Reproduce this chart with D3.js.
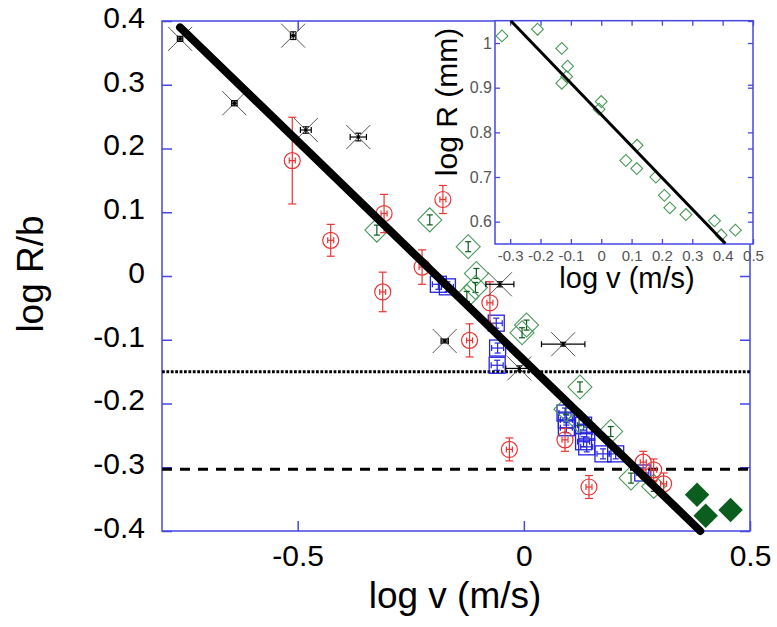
<!DOCTYPE html>
<html>
<head>
<meta charset="utf-8">
<title>log R/b vs log v</title>
<script src="https://cdn.jsdelivr.net/npm/d3@7/dist/d3.min.js"></script>
<style>
  body { margin: 0; background: #fff; }
  text { font-family: "Liberation Sans", Arial, sans-serif; }
</style>
</head>
<body>
<div id="chart"></div>
<script>
// ---- data ----
// black crosses: [log v, log R/b, x error, y error]
var crosses = [
  [-0.760, 0.372, 0.006, 0.004], [-0.510, 0.377, 0.006, 0.006],
  [-0.640, 0.271, 0.006, 0.004], [-0.482, 0.229, 0.012, 0.005],
  [-0.366, 0.218, 0.018, 0.006], [-0.053, -0.013, 0.031, 0.004],
  [-0.175, -0.102, 0.008, 0.003], [0.087, -0.107, 0.048, 0.003],
  [-0.010, -0.145, 0.030, 0.004]
];
// red circles: [log v, log R/b, y error]
var circles = [
  [-0.512, 0.181, 0.068], [-0.427, 0.056, 0.025], [-0.309, 0.098, 0.030],
  [-0.312, -0.025, 0.031], [-0.179, 0.120, 0.022], [-0.225, 0.014, 0.027],
  [-0.075, -0.042, 0.033], [-0.120, -0.101, 0.026], [-0.032, -0.272, 0.018],
  [0.091, -0.257, 0.018], [0.144, -0.331, 0.018], [0.264, -0.292, 0.017],
  [0.287, -0.304, 0.017], [0.309, -0.326, 0.017]
];
// green open diamonds
var diamonds = [
  [-0.325, 0.072], [-0.208, 0.088], [-0.123, 0.046], [-0.105, 0.004],
  [-0.107, -0.018], [-0.126, -0.032], [0.006, -0.077], [-0.004, -0.089],
  [0.124, -0.174], [0.093, -0.209], [0.122, -0.227], [0.192, -0.244],
  [0.237, -0.317], [0.287, -0.330]
];
// green filled diamonds
var filled = [[0.383, -0.343], [0.402, -0.376], [0.457, -0.367]];
// blue squares
var squares = [
  [-0.189, -0.013], [-0.169, -0.017], [-0.061, -0.074], [-0.058, -0.113],
  [-0.059, -0.140], [0.091, -0.215], [0.094, -0.226], [0.094, -0.238],
  [0.132, -0.234], [0.139, -0.245], [0.132, -0.260], [0.139, -0.268],
  [0.175, -0.279], [0.203, -0.279], [0.263, -0.309]
];
var fitLine = [[-0.76, 0.39], [0.39, -0.40]];
var refLevels = [-0.15, -0.303];

// inset: log v vs log R (mm)
var insetPts = [
  [-0.327, 1.016], [-0.210, 1.031], [-0.130, 0.988], [-0.111, 0.948],
  [-0.114, 0.925], [-0.130, 0.910], [0.000, 0.869], [-0.007, 0.852],
  [0.118, 0.771], [0.081, 0.737], [0.117, 0.719], [0.180, 0.700],
  [0.208, 0.659], [0.226, 0.631], [0.279, 0.616], [0.373, 0.602],
  [0.395, 0.570], [0.442, 0.581]
];
var insetFit = [[-0.298, 1.05], [0.409, 0.551]];

var xTicks = [-0.5, 0, 0.5];
var yTicks = [-0.4, -0.3, -0.2, -0.1, 0, 0.1, 0.2, 0.3, 0.4];
var ixTicks = [-0.3, -0.2, -0.1, 0, 0.1, 0.2, 0.3, 0.4, 0.5];
var iyTicks = [0.6, 0.7, 0.8, 0.9, 1];

var W = 777, H = 627;
var frameCol = "#4747e3";

var svg = d3.select("#chart").append("svg")
  .attr("width", W).attr("height", H);

var x = d3.scaleLinear().domain([-0.8, 0.5]).range([162, 750]);
var y = d3.scaleLinear().domain([-0.4, 0.4]).range([531, 21]);

// frame + ticks
function fmt(d) { return d === 0 ? "0" : String(d); }

svg.append("rect")
  .attr("x", x.range()[0]).attr("y", y.range()[1])
  .attr("width", x.range()[1] - x.range()[0])
  .attr("height", y.range()[0] - y.range()[1])
  .attr("fill", "none").attr("stroke", frameCol).attr("stroke-width", 1.5);

var axL = svg.append("g").attr("transform", "translate(" + x.range()[0] + ",0)")
  .call(d3.axisLeft(y).tickValues(yTicks).tickFormat(fmt).tickSize(-10).tickPadding(17));
var axB = svg.append("g").attr("transform", "translate(0," + y.range()[0] + ")")
  .call(d3.axisBottom(x).tickValues(xTicks).tickFormat(fmt).tickSize(-10).tickPadding(14));
var axR = svg.append("g").attr("transform", "translate(" + x.range()[1] + ",0)")
  .call(d3.axisRight(y).tickValues(yTicks).tickFormat("").tickSize(-10));
var axT = svg.append("g").attr("transform", "translate(0," + y.range()[1] + ")")
  .call(d3.axisTop(x).tickValues(xTicks).tickFormat("").tickSize(-10));

[axL, axB, axR, axT].forEach(function(g) {
  g.select(".domain").remove();
  g.selectAll("line").attr("stroke", frameCol).attr("stroke-width", 1.5);
  g.selectAll("text").attr("fill", "#000").style("font-size", "30px")
    .style("font-family", "'Liberation Sans', Arial, sans-serif");
});
axL.selectAll("text").attr("dy", "0.21em");

// axis titles
svg.append("text").attr("x", 455).attr("y", 608).attr("text-anchor", "middle")
  .style("font-size", "37px").text("log v (m/s)");
svg.append("text").attr("transform", "translate(43,274) rotate(-90)")
  .attr("text-anchor", "middle").style("font-size", "37px").text("log R/b");

var plot = svg.append("g");

// horizontal reference lines
plot.selectAll("line.ref").data(refLevels).enter().append("line")
  .attr("x1", x.range()[0]).attr("x2", x.range()[1])
  .attr("y1", function(d) { return y(d); }).attr("y2", function(d) { return y(d); })
  .attr("stroke", "#000").attr("stroke-width", 3)
  .attr("stroke-dasharray", function(d, i) { return i === 0 ? "2.8,1.6" : "10,8"; });

// helper for error bars
function errBar(g, x1, y1, x2, y2, cap, col, vertical) {
  g.append("line").attr("x1", x1).attr("y1", y1).attr("x2", x2).attr("y2", y2)
    .attr("stroke", col).attr("stroke-width", 1.2);
  [[x1, y1], [x2, y2]].forEach(function(p) {
    if (vertical) {
      g.append("line").attr("x1", p[0] - cap).attr("x2", p[0] + cap)
        .attr("y1", p[1]).attr("y2", p[1]).attr("stroke", col).attr("stroke-width", 1.2);
    } else {
      g.append("line").attr("y1", p[1] - cap).attr("y2", p[1] + cap)
        .attr("x1", p[0]).attr("x2", p[0]).attr("stroke", col).attr("stroke-width", 1.2);
    }
  });
}

// blue squares
plot.selectAll("g.sq").data(squares).enter().append("g").attr("class", "sq")
  .each(function(d) {
    var g = d3.select(this), cx = x(d[0]), cy = y(d[1]);
    g.append("rect").attr("x", cx - 8).attr("y", cy - 8).attr("width", 16).attr("height", 16)
      .attr("fill", "none").attr("stroke", "#2424e0").attr("stroke-width", 1.3);
    errBar(g, cx - 6, cy, cx + 6, cy, 3, "#2424e0", false);
    errBar(g, cx, cy - 5, cx, cy + 5, 3, "#2424e0", true);
  });

// green open diamonds
plot.selectAll("g.dm").data(diamonds).enter().append("g").attr("class", "dm")
  .each(function(d) {
    var g = d3.select(this), cx = x(d[0]), cy = y(d[1]);
    g.append("path")
      .attr("d", d3.symbol().type(d3.symbolSquare).size(288)())
      .attr("transform", "translate(" + cx + "," + cy + ") rotate(45)")
      .attr("fill", "none").attr("stroke", "#4a9a5a").attr("stroke-width", 1.1);
    errBar(g, cx, cy - 5, cx, cy + 5, 3, "#0d5a1c", true);
  });

// green filled diamonds
plot.selectAll("path.fd").data(filled).enter().append("path").attr("class", "fd")
  .attr("d", d3.symbol().type(d3.symbolSquare).size(300)())
  .attr("transform", function(d) { return "translate(" + x(d[0]) + "," + y(d[1]) + ") rotate(45)"; })
  .attr("fill", "#0c5e1f");

// red circles
plot.selectAll("g.ci").data(circles).enter().append("g").attr("class", "ci")
  .each(function(d) {
    var g = d3.select(this), cx = x(d[0]), cy = y(d[1]);
    g.append("circle").attr("cx", cx).attr("cy", cy).attr("r", 8)
      .attr("fill", "none").attr("stroke", "#ea3434").attr("stroke-width", 1.2);
    errBar(g, cx, y(d[1] + d[2]), cx, y(d[1] - d[2]), 4, "#ea3434", true);
    errBar(g, cx - 3, cy, cx + 3, cy, 3, "#ea3434", false);
  });

// black crosses
plot.selectAll("g.cr").data(crosses).enter().append("g").attr("class", "cr")
  .each(function(d) {
    var g = d3.select(this), cx = x(d[0]), cy = y(d[1]);
    g.append("path")
      .attr("d", "M" + (cx - 12) + "," + (cy - 12) + "L" + (cx + 12) + "," + (cy + 12) +
                 "M" + (cx - 12) + "," + (cy + 12) + "L" + (cx + 12) + "," + (cy - 12))
      .attr("stroke", "#555").attr("stroke-width", 1);
    errBar(g, x(d[0] - d[2]), cy, x(d[0] + d[2]), cy, 3, "#000", false);
    errBar(g, cx, y(d[1] + d[3]), cx, y(d[1] - d[3]), 3, "#000", true);
    g.append("rect").attr("x", cx - 1.5).attr("y", cy - 1.5).attr("width", 3).attr("height", 3).attr("fill", "#000");
  });

// fit line
plot.append("path").datum(fitLine)
  .attr("d", d3.line().x(function(d) { return x(d[0]); }).y(function(d) { return y(d[1]); }))
  .attr("stroke", "#000").attr("stroke-width", 8).attr("stroke-linecap", "round").attr("fill", "none");

// ---- inset ----
var xi = d3.scaleLinear().domain([-0.35, 0.5]).range([495, 753]);
var yi = d3.scaleLinear().domain([0.55, 1.05]).range([244, 20.7]);
var inset = svg.append("g");

inset.append("rect")
  .attr("x", xi.range()[0]).attr("y", yi.range()[1])
  .attr("width", xi.range()[1] - xi.range()[0])
  .attr("height", yi.range()[0] - yi.range()[1])
  .attr("fill", "#fff").attr("stroke", frameCol).attr("stroke-width", 1.5);

var iL = inset.append("g").attr("transform", "translate(" + xi.range()[0] + ",0)")
  .call(d3.axisLeft(yi).tickValues(iyTicks).tickFormat(fmt).tickSize(-5).tickPadding(3));
var iB = inset.append("g").attr("transform", "translate(0," + yi.range()[0] + ")")
  .call(d3.axisBottom(xi).tickValues(ixTicks).tickFormat(fmt).tickSize(-5).tickPadding(6));
var iR = inset.append("g").attr("transform", "translate(" + xi.range()[1] + ",0)")
  .call(d3.axisRight(yi).tickValues(iyTicks).tickFormat("").tickSize(-5));
var iT = inset.append("g").attr("transform", "translate(0," + yi.range()[1] + ")")
  .call(d3.axisTop(xi).tickValues(ixTicks).tickFormat("").tickSize(-5));
[iL, iB, iR, iT].forEach(function(g) {
  g.select(".domain").remove();
  g.selectAll("line").attr("stroke", frameCol).attr("stroke-width", 1.3);
  g.selectAll("text").attr("fill", "#555")
    .style("font-family", "'Liberation Sans', Arial, sans-serif");
});
iL.selectAll("text").style("font-size", "16px");
iB.selectAll("text").style("font-size", "15px");

// also the main frame's right ticks show over the inset edge
svg.append("g").attr("transform", "translate(" + xi.range()[1] + ",0)")
  .call(d3.axisRight(y).tickValues(yTicks.filter(function(v) { return y(v) < 244; })).tickFormat("").tickSize(-5))
  .call(function(g) { g.select(".domain").remove(); g.selectAll("line").attr("stroke", frameCol).attr("stroke-width", 1.3); });

inset.selectAll("path.ip").data(insetPts).enter().append("path").attr("class", "ip")
  .attr("d", d3.symbol().type(d3.symbolSquare).size(70)())
  .attr("transform", function(d) { return "translate(" + xi(d[0]) + "," + yi(d[1]) + ") rotate(45)"; })
  .attr("fill", "none").attr("stroke", "#4a9a5a").attr("stroke-width", 1.1);

inset.append("path").datum(insetFit)
  .attr("d", d3.line().x(function(d) { return xi(d[0]); }).y(function(d) { return yi(d[1]); }))
  .attr("stroke", "#000").attr("stroke-width", 3).attr("fill", "none");

svg.append("text").attr("x", 627).attr("y", 288).attr("text-anchor", "middle")
  .style("font-size", "29px").text("log v (m/s)");
svg.append("text").attr("transform", "translate(457,102) rotate(-90)")
  .attr("text-anchor", "middle").style("font-size", "30px").text("log R (mm)");
</script>
</body>
</html>
